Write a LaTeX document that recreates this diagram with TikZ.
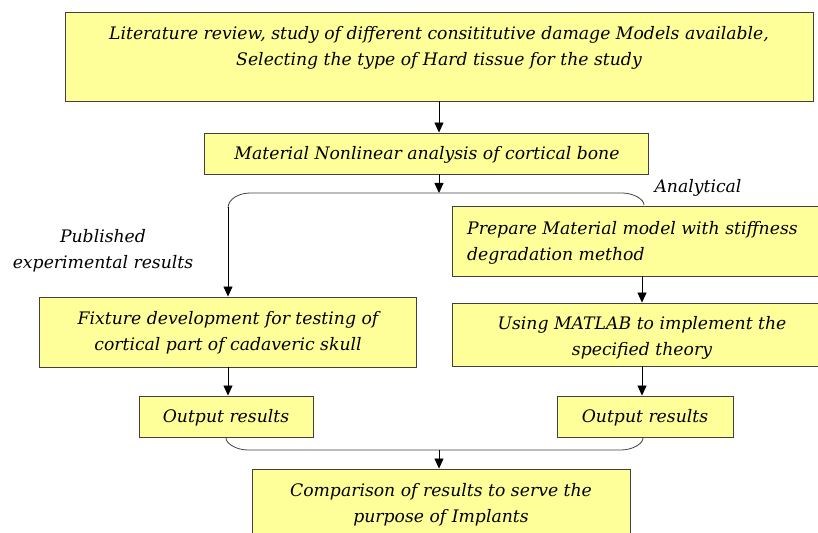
\documentclass[tikz,border=0pt]{standalone}
\usepackage{fontspec}
\setmainfont{DejaVu Serif}
\usetikzlibrary{arrows.meta}
\definecolor{boxfill}{HTML}{FFFF99}
\tikzset{
  box/.style={draw=black!75, fill=boxfill, line width=0.9bp, inner sep=0pt, rectangle},
  txt/.style={font=\fontsize{17.3}{26}\selectfont\itshape, align=center, inner sep=0pt},
  arr/.style={-{Triangle[length=10bp,width=9bp]}, line width=0.8bp, draw=black},
  bracel/.style={line width=0.8bp, draw=black!75},
}
\begin{document}
\begin{tikzpicture}[x=1bp,y=-1bp]
\useasboundingbox (0,0) rectangle (818,533);
\clip (0,0) rectangle (818,533);
% boxes
\node[box, minimum width=748bp, minimum height=89bp] (b1) at (439,56.5) {};
\node[box, minimum width=444bp, minimum height=41bp] (b2) at (426,153.5) {};
\node[box, minimum width=380bp, minimum height=70bp] (b3) at (642,241) {};
\node[box, minimum width=380bp, minimum height=63bp] (b4) at (642,334.5) {};
\node[box, minimum width=377bp, minimum height=70bp] (b5) at (227.5,332) {};
\node[box, minimum width=174bp, minimum height=41bp] (b6) at (226,416.5) {};
\node[box, minimum width=176bp, minimum height=41bp] (b7) at (645,416.5) {};
\node[box, minimum width=378bp, minimum height=80bp] (b8) at (441,509) {};
% texts
\node[txt] (t1) at (439,48) {Literature review, study of different consititutive damage Models available,\\Selecting the type of Hard tissue for the study};
\node[txt] (t2) at (427,155) {Material Nonlinear analysis of cortical bone};
\node[txt, align=left, anchor=west] (t3) at (467,243) {Prepare Material model with stiffness\\degradation method};
\node[txt] (t4) at (642,338) {Using MATLAB to implement the\\specified theory};
\node[txt] (t5) at (228,333) {Fixture development for testing of\\cortical part of cadaveric skull};
\node[txt] (t6) at (226,418) {Output results};
\node[txt] (t7) at (645,418) {Output results};
\node[txt] (t8) at (441,505) {Comparison of results to serve the\\purpose of Implants};
\node[txt] (l1) at (698,188) {Analytical};
\node[txt] (l2) at (103,251) {Published\\experimental results};
% connectors
\coordinate (bt) at (439,193);
\coordinate (bb) at (439,450);
\coordinate (lx) at (228,0);
\coordinate (rx) at (642,0);
\draw[arr] (b1.south -| bt) -- (bt |- b2.north);
\draw[arr] (bt |- b2.south) -- (bt);
\draw[bracel] (644,205) .. controls (644,199) and (633,193) .. (622,193) -- (250,193)
  .. controls (239,193) and (228,199) .. (228,208);
\draw[arr] (228,207) -- (lx |- b5.north);
\draw[arr] (lx |- b5.south) -- (lx |- b6.north);
\draw[arr] (b3.south) -- (b4.north);
\draw[arr] (b4.south) -- (rx |- b7.north);
\draw[bracel] (226,438) .. controls (226,444) and (237,450) .. (248,450) -- (621,450)
  .. controls (632,450) and (643,444) .. (643,438);
\draw[arr] (bb) -- (bb |- b8.north);
\end{tikzpicture}
\end{document}
